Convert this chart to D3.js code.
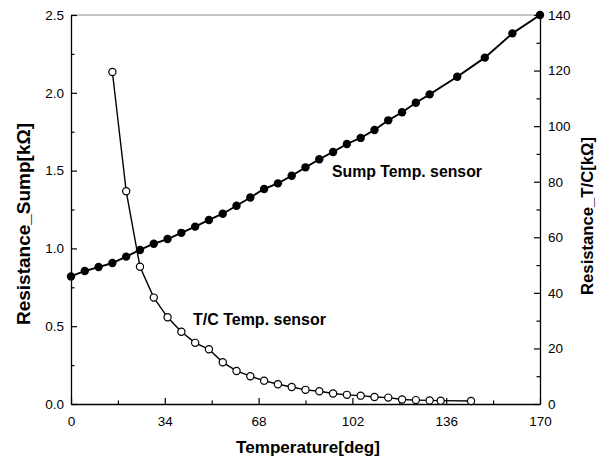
<!DOCTYPE html>
<html><head><meta charset="utf-8">
<script src="https://cdn.jsdelivr.net/npm/d3@7"></script>
<style>
html,body{margin:0;padding:0;background:#fff;}
svg{display:block;}
text{font-family:"Liberation Sans",Arial,sans-serif;fill:#000;}
</style></head><body>
<svg id="chart" width="603" height="461"></svg>
<script>
// ---- data ----
const sumpTemp = [0,5,10,15,20,25,30,35,40,45,50,55,60,65,70,75,80,85,90,95,100,105,110,115,120,125,130,140,150,160,170];
const sumpRes  = [0.82,0.855,0.88,0.906,0.947,0.99,1.03,1.06,1.10,1.14,1.183,1.223,1.274,1.327,1.382,1.418,1.467,1.521,1.573,1.62,1.671,1.71,1.761,1.823,1.875,1.936,1.99,2.103,2.226,2.382,2.5];
const tcTemp = [15,20,25,30,35,40,45,50,55,60,65,70,75,80,85,90,95,100,105,110,115,120,125,130,134,145];
const tcRes  = [119.5,76.6,49.4,38.3,31.2,26.0,22.0,19.7,15.0,11.9,10.0,8.4,7.1,6.1,5.1,4.6,3.8,3.3,3.0,2.5,2.3,1.6,1.4,1.3,1.2,1.1];
const xTickValues = [0,34,68,102,136,170];
const xMinorTicks = [17,51,85,119,153];
const leftTickValues = [0,0.5,1.0,1.5,2.0,2.5];
const leftMinorTicks = [0.25,0.75,1.25,1.75,2.25];
const rightTickValues = [0,20,40,60,80,100,120,140];
const rightMinorTicks = [10,30,50,70,90,110,130];
const xTitle = "Temperature[deg]";
const leftTitle = "Resistance_Sump[kΩ]";
const rightTitle = "Resistance_T/C[kΩ]";
const sumpLabel = "Sump Temp. sensor";
const tcLabel = "T/C Temp. sensor";

// ---- layout ----
const L = 71, R = 540, T = 15, B = 404;
const svg = d3.select("#chart");
const x = d3.scaleLinear().domain([0,170]).range([L,R]);
const yL = d3.scaleLinear().domain([0,2.5]).range([B,T]);
const yR = d3.scaleLinear().domain([0,140]).range([B,T]);

function fit(sel, target){
  const fs = parseFloat(sel.attr("font-size"));
  const len = sel.node().getComputedTextLength();
  if (len > 0) sel.attr("font-size", (fs*target/len).toFixed(2));
}

// top border
svg.append("line").attr("x1",L).attr("x2",R).attr("y1",T).attr("y2",T)
  .attr("stroke","#8a8a8a").attr("stroke-width",1);

function styleAxis(g){
  g.selectAll(".domain").attr("stroke","#000").attr("stroke-width",1.3);
  g.selectAll(".tick line").attr("stroke","#000").attr("stroke-width",1.2);
  g.selectAll("text").attr("font-size",13.5).attr("font-family",'"Liberation Sans",Arial,sans-serif').attr("fill","#000");
}

// bottom axis
const gx = svg.append("g").attr("transform",`translate(0,${B})`)
  .call(d3.axisBottom(x).tickValues(xTickValues).tickFormat(d3.format("d"))
    .tickSizeInner(-6).tickSizeOuter(0).tickPadding(12));
styleAxis(gx);
const gxm = svg.append("g").attr("transform",`translate(0,${B})`)
  .call(d3.axisBottom(x).tickValues(xMinorTicks).tickFormat("").tickSizeInner(-3.5).tickSizeOuter(0));
styleAxis(gxm); gxm.select(".domain").remove();

// left axis
const gl = svg.append("g").attr("transform",`translate(${L},0)`)
  .call(d3.axisLeft(yL).tickValues(leftTickValues).tickFormat(d3.format(".1f"))
    .tickSizeInner(-6).tickSizeOuter(0).tickPadding(7));
styleAxis(gl);
const glm = svg.append("g").attr("transform",`translate(${L},0)`)
  .call(d3.axisLeft(yL).tickValues(leftMinorTicks).tickFormat("").tickSizeInner(-3.5).tickSizeOuter(0));
styleAxis(glm); glm.select(".domain").remove();

// right axis
const gr = svg.append("g").attr("transform",`translate(${R},0)`)
  .call(d3.axisRight(yR).tickValues(rightTickValues).tickFormat(d3.format("d"))
    .tickSizeInner(-6).tickSizeOuter(0).tickPadding(8));
styleAxis(gr);
const grm = svg.append("g").attr("transform",`translate(${R},0)`)
  .call(d3.axisRight(yR).tickValues(rightMinorTicks).tickFormat("").tickSizeInner(-3.5).tickSizeOuter(0));
styleAxis(grm); grm.select(".domain").remove();

// series
const sump = sumpTemp.map((t,i)=>({t, v:sumpRes[i]}));
const tc = tcTemp.map((t,i)=>({t, v:tcRes[i]}));

svg.append("path").datum(sump)
  .attr("d", d3.line().x(d=>x(d.t)).y(d=>yL(d.v)))
  .attr("fill","none").attr("stroke","#000").attr("stroke-width",1.9);
svg.append("path").datum(tc)
  .attr("d", d3.line().x(d=>x(d.t)).y(d=>yR(d.v)))
  .attr("fill","none").attr("stroke","#000").attr("stroke-width",1.4);

svg.append("g").selectAll("circle").data(sump).join("circle")
  .attr("cx",d=>x(d.t)).attr("cy",d=>yL(d.v)).attr("r",4.2).attr("fill","#000");
svg.append("g").selectAll("circle").data(tc).join("circle")
  .attr("cx",d=>x(d.t)).attr("cy",d=>yR(d.v)).attr("r",3.6)
  .attr("fill","#fff").attr("stroke","#000").attr("stroke-width",1.2);

// annotations
const s1 = svg.append("text").attr("x",332).attr("y",177).attr("font-size",16)
  .attr("font-weight","bold").text(sumpLabel);
fit(s1,150);
const s2 = svg.append("text").attr("x",193).attr("y",324.5).attr("font-size",16)
  .attr("font-weight","bold").text(tcLabel);
fit(s2,133);

// axis titles
const xt = svg.append("text").attr("x",308).attr("y",453).attr("text-anchor","middle")
  .attr("font-size",16).attr("font-weight","bold").text(xTitle);
fit(xt,144);
const lt = svg.append("text").attr("transform","translate(30,224) rotate(-90)")
  .attr("text-anchor","middle").attr("font-size",17).attr("font-weight","bold").text(leftTitle);
fit(lt,202);
const rt = svg.append("text").attr("transform","translate(593,216) rotate(-90)")
  .attr("text-anchor","middle").attr("font-size",16).attr("font-weight","bold").text(rightTitle);
fit(rt,158);
</script>
</body></html>
